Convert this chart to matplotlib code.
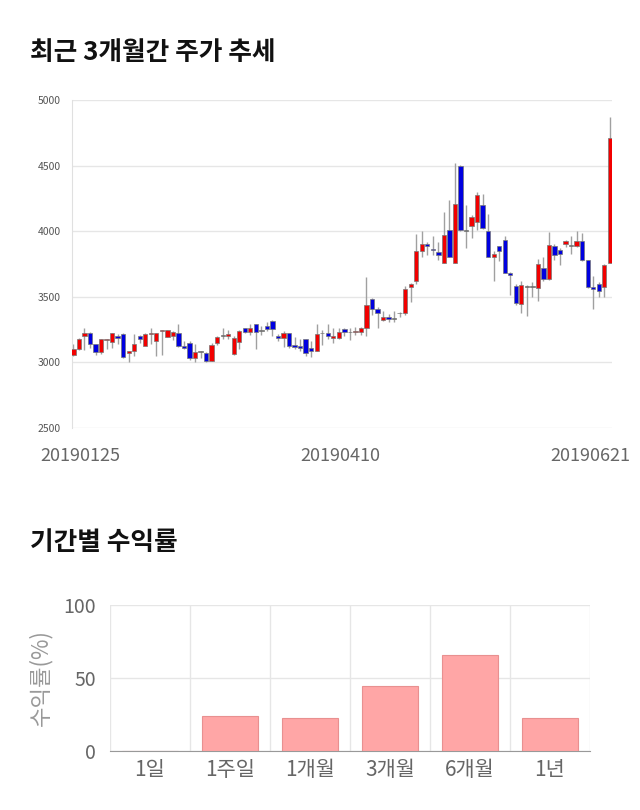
import matplotlib
matplotlib.use("Agg")
import matplotlib.pyplot as plt
import numpy as np

plt.rcParams['font.family'] = ['Noto Sans CJK KR', 'DejaVu Sans']

# ---- price data (OHLC) ----
opens = [3053, 3100, 3200, 3226, 3137, 3080, 3170, 3152, 3200, 3213,
         3074, 3089, 3200, 3127, 3213, 3165, 3243, 3195, 3200, 3226,
         3127, 3150, 3030, 3081, 3074, 3013, 3145, 3200, 3200, 3061,
         3157, 3259, 3228, 3289, 3241, 3279, 3317, 3200, 3188, 3221,
         3132, 3127, 3175, 3107, 3089, 3221, 3221, 3188, 3188, 3251,
         3228, 3228, 3233, 3266, 3480, 3404, 3322, 3343, 3330, 3373,
         3373, 3576, 3619, 3850, 3901, 3868, 3838, 3761, 4010, 3761,
         4500, 4000, 4041, 4071, 4200, 4000, 3800, 3886, 3931, 3683,
         3581, 3444, 3576, 3573, 3568, 3716, 3632, 3891, 3860, 3901,
         3888, 3888, 3924, 3779, 3576, 3601, 3576, 3759]
closes = [3099, 3178, 3225, 3140, 3080, 3178, 3172, 3221, 3183, 3043,
          3086, 3137, 3175, 3213, 3221, 3221, 3246, 3246, 3228, 3127,
          3112, 3030, 3081, 3081, 3013, 3132, 3195, 3200, 3213, 3183,
          3241, 3228, 3266, 3228, 3241, 3251, 3251, 3188, 3221, 3127,
          3119, 3112, 3068, 3089, 3213, 3221, 3200, 3200, 3228, 3228,
          3228, 3241, 3266, 3437, 3404, 3378, 3343, 3327, 3330, 3373,
          3558, 3596, 3850, 3901, 3886, 3860, 3817, 3970, 3805, 4211,
          4008, 4000, 4107, 4279, 4028, 3800, 3830, 3850, 3683, 3665,
          3449, 3589, 3576, 3573, 3751, 3632, 3896, 3822, 3830, 3924,
          3888, 3929, 3779, 3576, 3563, 3546, 3746, 4713]
highs = [3140, 3185, 3265, 3235, 3140, 3180, 3180, 3225, 3215, 3225,
         3090, 3220, 3210, 3225, 3260, 3225, 3250, 3250, 3240, 3295,
         3160, 3160, 3140, 3085, 3080, 3150, 3200, 3260, 3250, 3200,
         3250, 3265, 3295, 3295, 3280, 3310, 3320, 3215, 3240, 3225,
         3190, 3180, 3180, 3160, 3295, 3245, 3290, 3265, 3260, 3260,
         3265, 3270, 3270, 3650, 3490, 3425, 3395, 3370, 3390, 3385,
         3580, 3605, 3980, 4000, 3920, 3960, 3920, 4150, 4240, 4520,
         4505, 4200, 4120, 4300, 4280, 4130, 3850, 3890, 3960, 3690,
         3600, 3620, 3590, 3610, 3790, 3800, 3995, 3900, 3870, 3935,
         3960, 4000, 3990, 3780, 3660, 3610, 3750, 4870]
lows = [3045, 3095, 3095, 3110, 3055, 3065, 3100, 3110, 3140, 3030,
        3005, 3050, 3150, 3130, 3140, 3050, 3055, 3190, 3170, 3115,
        3100, 3020, 3005, 3030, 3005, 3010, 3130, 3180, 3175, 3060,
        3100, 3225, 3210, 3100, 3210, 3240, 3200, 3160, 3115, 3110,
        3100, 3090, 3050, 3040, 3085, 3130, 3180, 3150, 3180, 3200,
        3170, 3210, 3210, 3200, 3360, 3265, 3315, 3310, 3310, 3345,
        3360, 3460, 3600, 3800, 3820, 3820, 3780, 3760, 3800, 3760,
        4000, 3870, 3950, 4010, 4020, 3800, 3620, 3770, 3680, 3510,
        3440, 3380, 3350, 3500, 3470, 3620, 3630, 3780, 3740, 3880,
        3830, 3880, 3770, 3570, 3410, 3495, 3500, 3760]
date_labels = ["20190125", "20190410", "20190621"]
price_ticks = [2500, 3000, 3500, 4000, 4500, 5000]

# ---- return data ----
periods = ["1일", "1주일", "1개월", "3개월", "6개월", "1년"]
returns = [0.0, 24.0, 22.6, 44.5, 65.8, 22.6]

W, H = 640, 810
fig = plt.figure(figsize=(W / 100, H / 100), dpi=100)
fig.patch.set_facecolor('white')

def px_axes(l, t, r, b):
    return fig.add_axes([l / W, 1 - b / H, (r - l) / W, (b - t) / H])

# ---------- top chart ----------
fig.text(30 / W, 1 - 52 / H, "최근 3개월간 주가 추세", fontsize=18.5, fontweight='bold',
         color='#111111', va='center', ha='left')

ax = px_axes(72, 100, 612, 428)
n = len(opens)
x = np.arange(n)
o = np.array(opens); c = np.array(closes)
hi = np.array(highs); lo = np.array(lows)
up = c > o
down = c < o
colors = np.where(up, '#f20000', np.where(down, '#0000e0', '#555555'))
ax.vlines(x, lo, hi, color='#a0a0a0', linewidth=1.0, zorder=2)
bottoms = np.minimum(o, c)
heights = np.maximum(np.abs(c - o), 6)
ax.bar(x, heights, bottom=bottoms, width=0.78, color=colors,
       edgecolor='#777777', linewidth=0.5, zorder=3)

x0, x1 = -0.25, n - 0.6
ax.set_ylim(2500, 5000)
ax.set_xlim(x0, x1)
ax.set_yticks(price_ticks)
ax.set_yticklabels([str(t) for t in price_ticks], fontsize=7.5, color='#555555')
ax.yaxis.grid(True, color='#e6e6e6', linewidth=1)
ax.set_axisbelow(True)
for s in ['top', 'right', 'bottom']:
    ax.spines[s].set_visible(False)
ax.spines['left'].set_color('#e0e0e0')
ax.tick_params(axis='y', length=0, pad=8)
ax.tick_params(axis='x', length=0, pad=14)
# label centres as fractions of the axis width
label_frac = [0.015, 0.496, 0.959]
ax.set_xticks([x0 + f * (x1 - x0) for f in label_frac])
ax.set_xticklabels(date_labels, fontsize=13, color='#666666')
ax.set_facecolor('white')

# ---------- bottom chart ----------
fig.text(30 / W, 1 - 543 / H, "기간별 수익률", fontsize=18.5, fontweight='bold',
         color='#111111', va='center', ha='left')

bx = px_axes(110, 605, 590, 751)
xb = np.arange(len(periods))
bx.bar(xb, returns, width=0.7, color='#ffa6a6', edgecolor='#e89090',
       linewidth=0.8, zorder=3)
bx.set_xlim(-0.5, len(periods) - 0.5)
bx.set_ylim(0, 100)
bx.set_yticks([0, 50, 100])
bx.set_yticklabels(['0', '50', '100'], fontsize=14, color='#666666')
bx.set_xticks(xb)
bx.set_xticklabels(periods, fontsize=15, color='#666666')
bx.tick_params(axis='both', length=0)
bx.tick_params(axis='y', pad=10)
bx.tick_params(axis='x', pad=6)
bx.yaxis.grid(True, color='#e6e6e6', linewidth=1)
for b in np.arange(-0.5, len(periods), 1.0):
    bx.axvline(b, color='#e6e6e6', linewidth=1, zorder=1)
for s in ['top', 'right', 'left']:
    bx.spines[s].set_visible(False)
bx.spines['bottom'].set_color('#999999')
bx.set_axisbelow(True)
bx.set_ylabel("수익률(%)", fontsize=16, color='#999999', labelpad=8)

fig.savefig("out.png", dpi=100, facecolor='white')
